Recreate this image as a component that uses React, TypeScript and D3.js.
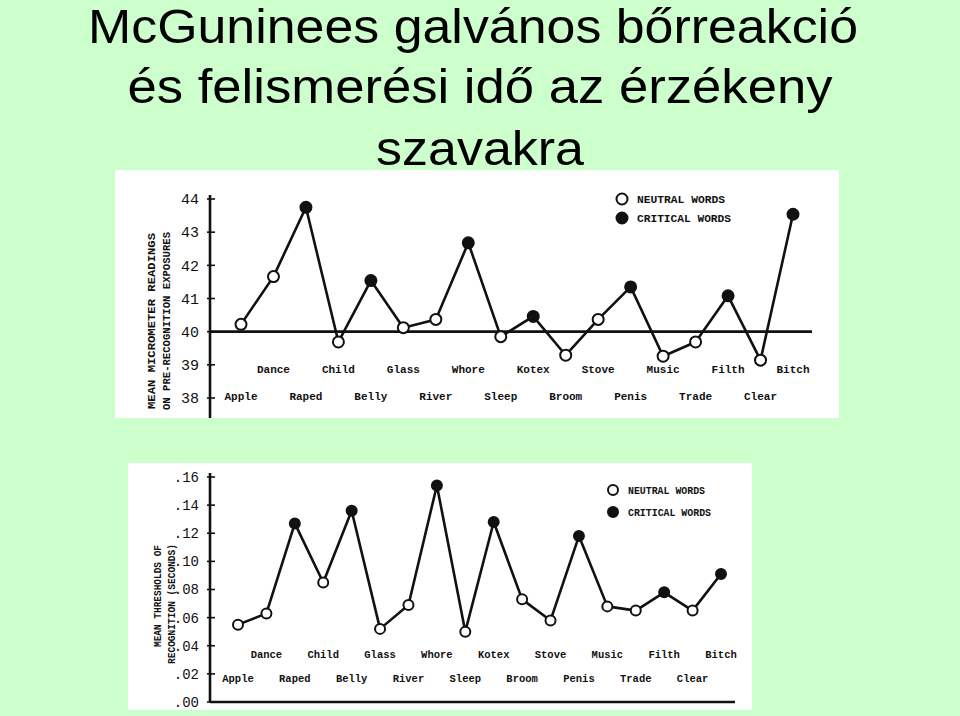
import React from "react";
import * as d3 from "d3";

const titleLines = ["McGuninees galvános bőrreakció", "és felismerési idő az érzékeny", "szavakra"];
const words = ["Apple", "Dance", "Raped", "Child", "Belly", "Glass", "River", "Whore", "Sleep", "Kotex", "Broom", "Stove", "Penis", "Music", "Trade", "Filth", "Clear", "Bitch"];
const critical = [false, false, true, false, true, false, false, true, false, true, false, false, true, false, false, true, false, true];
const gsrValues = [40.22, 41.66, 43.75, 39.69, 41.54, 40.12, 40.37, 42.68, 39.85, 40.46, 39.29, 40.37, 41.35, 39.26, 39.69, 41.08, 39.14, 43.54];
const recogValues = [0.055, 0.063, 0.127, 0.085, 0.136, 0.052, 0.069, 0.154, 0.050, 0.128, 0.073, 0.058, 0.118, 0.068, 0.065, 0.078, 0.065, 0.091];
const gsrTicks = [38, 39, 40, 41, 42, 43, 44];
const recogTicks = [0, 0.02, 0.04, 0.06, 0.08, 0.1, 0.12, 0.14, 0.16];
const gsrAxisTitle = ["MEAN MICROMETER READINGS", "ON PRE-RECOGNITION EXPOSURES"];
const recogAxisTitle = ["MEAN THRESHOLDS OF", "RECOGNITION (SECONDS)"];
const legendLabels = ["NEUTRAL WORDS", "CRITICAL WORDS"];

const mono = "'Liberation Mono', 'Courier New', monospace";

type PanelProps = {
  values: number[];
  x: d3.ScalePoint<string>;
  y: d3.ScaleLinear<number, number>;
  ticks: number[];
  tickFmt: (v: number) => string;
  tickSize: number;
  axisX: number;
  axisTop: number;
  axisBottom: number;
  hLineY: number;
  hLineEnd: number;
  row1Y: number;
  row2Y: number;
  titleLines: string[];
  titleX: number[];
  titleCY: number[];
  titleLen: number[];
  titleSize: number;
  legendX: number;
  legendY: number[];
  legendSize: number;
  legendLen: number[];
  r: number;
  labelSize: number;
};

function Panel(p: PanelProps) {
  const line = d3
    .line<number>()
    .x((_, i) => p.x(words[i]) as number)
    .y((v) => p.y(v));
  return (
    <g>
      <line x1={p.axisX} x2={p.axisX} y1={p.axisTop} y2={p.axisBottom} stroke="#111" strokeWidth={2.6} />
      {p.ticks.map((t) => (
        <g key={t}>
          <line x1={p.axisX - 3} x2={p.axisX + 5} y1={p.y(t)} y2={p.y(t)} stroke="#111" strokeWidth={1.6} />
          <text
            x={p.axisX - 11}
            y={p.y(t)}
            dy="0.35em"
            textAnchor="end"
            fontFamily={mono}
            fontSize={p.tickSize}
            fill="#111"
          >
            {p.tickFmt(t)}
          </text>
        </g>
      ))}
      <line x1={p.axisX} x2={p.hLineEnd} y1={p.hLineY} y2={p.hLineY} stroke="#111" strokeWidth={2.6} />
      {p.titleLines.map((t, i) => (
        <text
          key={t}
          transform={`translate(${p.titleX[i]},${p.titleCY[i]}) rotate(-90)`}
          textAnchor="middle"
          dy="0.35em"
          fontFamily={mono}
          fontWeight="bold"
          fontSize={p.titleSize}
          textLength={p.titleLen[i]}
          lengthAdjust="spacingAndGlyphs"
          fill="#111"
        >
          {t}
        </text>
      ))}
      {words.map((w, i) => (
        <text
          key={w}
          x={p.x(w) as number}
          y={i % 2 === 1 ? p.row1Y : p.row2Y}
          dy="0.35em"
          textAnchor="middle"
          fontFamily={mono}
          fontWeight="bold"
          fontSize={p.labelSize}
          fill="#111"
        >
          {w}
        </text>
      ))}
      <path d={line(p.values) || ""} fill="none" stroke="#111" strokeWidth={2.6} strokeLinejoin="round" />
      {p.values.map((v, i) => (
        <circle
          key={words[i]}
          cx={p.x(words[i]) as number}
          cy={p.y(v)}
          r={p.r}
          fill={critical[i] ? "#111" : "#fff"}
          stroke="#111"
          strokeWidth={2}
        />
      ))}
      {legendLabels.map((l, i) => (
        <g key={l}>
          <circle
            cx={p.legendX}
            cy={p.legendY[i]}
            r={p.r}
            fill={i === 1 ? "#111" : "#fff"}
            stroke="#111"
            strokeWidth={2}
          />
          <text
            x={p.legendX + 15}
            y={p.legendY[i]}
            dy="0.35em"
            fontFamily={mono}
            fontWeight="bold"
            fontSize={p.legendSize}
            textLength={p.legendLen[i]}
            lengthAdjust="spacingAndGlyphs"
            fill="#111"
          >
            {l}
          </text>
        </g>
      ))}
    </g>
  );
}

export default function App() {
  const xTop = d3.scalePoint<string>().domain(words).range([241, 793]);
  const yTop = d3.scaleLinear().domain([38, 44]).range([398, 199]);
  const xBot = d3.scalePoint<string>().domain(words).range([238, 721]);
  const yBot = d3.scaleLinear().domain([0, 0.16]).range([702, 477]);

  return (
    <svg
      width={960}
      height={716}
      style={{ position: "absolute", left: 0, top: 0, display: "block" }}
    >
      <rect x={0} y={0} width={960} height={716} fill="#ccffcc" />
      {titleLines.map((t, i) => (
        <text
          key={t}
          x={[473, 480, 480][i]}
          y={[43, 103, 165][i]}
          textAnchor="middle"
          fontFamily="'Liberation Sans', Arial, sans-serif"
          fontSize={49}
          textLength={[770, 705, 208][i]}
          lengthAdjust="spacingAndGlyphs"
          fill="#000"
        >
          {t}
        </text>
      ))}
      <rect x={115} y={170} width={724} height={248} fill="#fff" />
      <svg x={115} y={170} width={724} height={248} overflow="hidden">
        <g transform="translate(-115,-170)">
          <Panel
            values={gsrValues}
            x={xTop}
            y={yTop}
            ticks={gsrTicks}
            tickFmt={(v) => String(v)}
            tickSize={15}
            axisX={210}
            axisTop={195}
            axisBottom={420}
            hLineY={yTop(40)}
            hLineEnd={812}
            row1Y={369}
            row2Y={396}
            titleLines={gsrAxisTitle}
            titleX={[151, 166]}
            titleCY={[321, 321]}
            titleLen={[176, 178]}
            titleSize={11}
            legendX={622}
            legendY={[199, 218]}
            legendSize={11}
            legendLen={[88, 94]}
            r={5.5}
            labelSize={11}
          />
        </g>
      </svg>
      <rect x={128} y={463} width={624} height={247} fill="#fff" />
      <svg x={128} y={463} width={624} height={247} overflow="hidden">
        <g transform="translate(-128,-463)">
          <Panel
            values={recogValues}
            x={xBot}
            y={yBot}
            ticks={recogTicks}
            tickFmt={(v) => d3.format(".2f")(v).replace(/^0/, "")}
            tickSize={14}
            axisX={210}
            axisTop={473}
            axisBottom={702}
            hLineY={yBot(0)}
            hLineEnd={735}
            row1Y={654}
            row2Y={678}
            titleLines={recogAxisTitle}
            titleX={[157, 171]}
            titleCY={[596, 604]}
            titleLen={[102, 120]}
            titleSize={10}
            legendX={613}
            legendY={[490, 512]}
            legendSize={10}
            legendLen={[77, 83]}
            r={5}
            labelSize={10.5}
          />
        </g>
      </svg>
    </svg>
  );
}
